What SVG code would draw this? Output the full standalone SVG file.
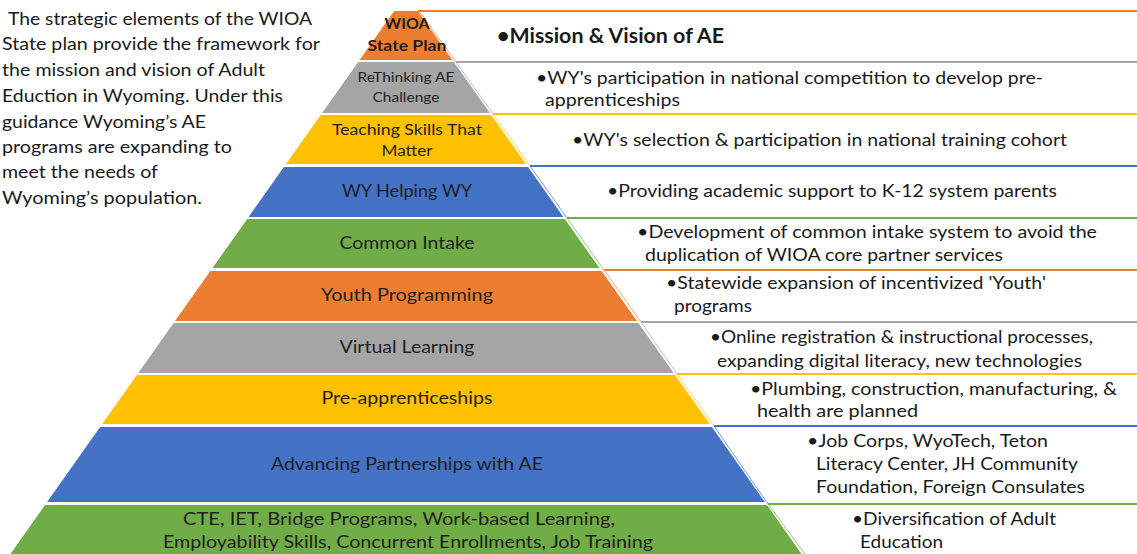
<svg xmlns="http://www.w3.org/2000/svg" width="1137" height="554" viewBox="0 0 1137 554">
  <style>
    .bg { fill: #ffffff; }
    .orange { fill: #ED7D31; }
    .grey { fill: #A5A5A5; }
    .yellow { fill: #FFC000; }
    .blue { fill: #4472C4; }
    .green { fill: #70AD47; }
    .so { stroke: #ED7D31; }
    .sg { stroke: #A5A5A5; }
    .sy { stroke: #FFC000; }
    .sb { stroke: #4472C4; }
    .sn { stroke: #70AD47; }
    .top { stroke-width: 2; fill: none; }
    .side { stroke-width: 1; fill: none; opacity: 0.7; }
    .lbl { font-family: Lato, "Liberation Sans", sans-serif; font-size: 17px; fill: #1e1e1e; text-anchor: middle; }
    .desc { font-family: Lato, "Liberation Sans", sans-serif; font-size: 17px; fill: #1a1a1a; }
    .intro { font-family: Lato, "Liberation Sans", sans-serif; font-size: 17.5px; fill: #1a1a1a; }
  </style>
  <rect class="bg" x="0" y="0" width="1137" height="554"/>

  <!-- introductory paragraph -->
  <g id="intro">
    <text class="intro" x="8" y="25" textLength="304" lengthAdjust="spacingAndGlyphs">The strategic elements of the WIOA</text>
    <text class="intro" x="2" y="50" textLength="318" lengthAdjust="spacingAndGlyphs">State plan provide the framework for</text>
    <text class="intro" x="2" y="76" textLength="263" lengthAdjust="spacingAndGlyphs">the mission and vision of Adult</text>
    <text class="intro" x="2" y="102" textLength="281" lengthAdjust="spacingAndGlyphs">Eduction in Wyoming. Under this</text>
    <text class="intro" x="2" y="128" textLength="204" lengthAdjust="spacingAndGlyphs">guidance Wyoming’s AE</text>
    <text class="intro" x="2" y="153" textLength="230" lengthAdjust="spacingAndGlyphs">programs are expanding to</text>
    <text class="intro" x="2" y="178" textLength="156" lengthAdjust="spacingAndGlyphs">meet the needs of</text>
    <text class="intro" x="2" y="204" textLength="200" lengthAdjust="spacingAndGlyphs">Wyoming’s population.</text>
  </g>

  <!-- box edges linking each tier to its description -->
  <g id="connectors">
    <line class="top so" x1="418" y1="11" x2="1137" y2="11"/>
    <line class="side so" x1="419" y1="11" x2="456" y2="62"/>
    <line class="top sg" x1="456" y1="62" x2="1137" y2="62"/>
    <line class="side sg" x1="456" y1="62" x2="493" y2="114"/>
    <line class="top sy" x1="493" y1="114" x2="1137" y2="114"/>
    <line class="side sy" x1="493" y1="114" x2="530" y2="166"/>
    <line class="top sb" x1="530" y1="166" x2="1137" y2="166"/>
    <line class="side sb" x1="530" y1="166" x2="567" y2="218"/>
    <line class="top sn" x1="567" y1="218" x2="1137" y2="218"/>
    <line class="side sn" x1="567" y1="218" x2="604" y2="270"/>
    <line class="top so" x1="604" y1="270" x2="1137" y2="270"/>
    <line class="side so" x1="604" y1="270" x2="641" y2="322"/>
    <line class="top sg" x1="641" y1="322" x2="1137" y2="322"/>
    <line class="side sg" x1="641" y1="322" x2="677" y2="374"/>
    <line class="top sy" x1="677" y1="374" x2="1137" y2="374"/>
    <line class="side sy" x1="677" y1="374" x2="714" y2="426"/>
    <line class="top sb" x1="714" y1="426" x2="1137" y2="426"/>
    <line class="side sb" x1="714" y1="426" x2="768" y2="504"/>
    <line class="top sn" x1="768" y1="504" x2="1137" y2="504"/>
    <line class="side sn" x1="768" y1="504" x2="805" y2="554"/>
  </g>

  <g id="tier-wioa">
    <polygon class="orange" points="394.2,11 417.8,11 452.4,60 359.6,60"/>
    <text class="lbl" x="407" y="29" style="font-weight:bold;font-size:15px" textLength="45" lengthAdjust="spacingAndGlyphs">WIOA</text>
    <text class="lbl" x="407" y="51" style="font-weight:bold;font-size:15px" textLength="79" lengthAdjust="spacingAndGlyphs">State Plan</text>
    <text class="desc" x="497" y="43" style="font-weight:bold;font-size:20.5px" textLength="227" lengthAdjust="spacingAndGlyphs">•Mission &amp; Vision of AE</text>
  </g>

  <g id="tier-rethinking">
    <polygon class="grey" points="358.2,62 453.8,62 489.9,113 322.1,113"/>
    <text class="lbl" x="406" y="82" style="font-size:14px" textLength="97" lengthAdjust="spacingAndGlyphs">ReThinking AE</text>
    <text class="lbl" x="406" y="102" style="font-size:14px" textLength="67" lengthAdjust="spacingAndGlyphs">Challenge</text>
    <text class="desc" x="536" y="84" textLength="507" lengthAdjust="spacingAndGlyphs">•WY's participation in national competition to develop pre-</text>
    <text class="desc" x="545" y="106" textLength="135" lengthAdjust="spacingAndGlyphs">apprenticeships</text>
  </g>

  <g id="tier-teaching">
    <polygon class="yellow" points="320.7,115 491.3,115 526,164 286,164"/>
    <text class="lbl" x="407" y="135" style="font-size:15.5px" textLength="150" lengthAdjust="spacingAndGlyphs">Teaching Skills That</text>
    <text class="lbl" x="407" y="156" style="font-size:15.5px" textLength="51" lengthAdjust="spacingAndGlyphs">Matter</text>
    <text class="desc" x="572" y="146" textLength="495" lengthAdjust="spacingAndGlyphs">•WY's selection &amp; participation in national training cohort</text>
  </g>

  <g id="tier-helping">
    <polygon class="blue" points="283.9,167 528.1,167 563.4,217 248.6,217"/>
    <text class="lbl" x="407" y="197" textLength="130" lengthAdjust="spacingAndGlyphs">WY Helping WY</text>
    <text class="desc" x="607" y="197" textLength="450" lengthAdjust="spacingAndGlyphs">•Providing academic support to K-12 system parents</text>
  </g>

  <g id="tier-intake">
    <polygon class="green" points="247.2,219 564.8,219 599.5,268 212.5,268"/>
    <text class="lbl" x="407" y="249" textLength="135" lengthAdjust="spacingAndGlyphs">Common Intake</text>
    <text class="desc" x="637" y="238" textLength="460" lengthAdjust="spacingAndGlyphs">•Development of common intake system to avoid the</text>
    <text class="desc" x="645" y="261" textLength="358" lengthAdjust="spacingAndGlyphs">duplication of WIOA core partner services</text>
  </g>

  <g id="tier-youth">
    <polygon class="orange" points="210.4,271 601.6,271 637,321 175,321"/>
    <text class="lbl" x="407" y="301" textLength="172" lengthAdjust="spacingAndGlyphs">Youth Programming</text>
    <text class="desc" x="666" y="289" textLength="380" lengthAdjust="spacingAndGlyphs">•Statewide expansion of incentivized 'Youth'</text>
    <text class="desc" x="674" y="312" textLength="78" lengthAdjust="spacingAndGlyphs">programs</text>
  </g>

  <g id="tier-virtual">
    <polygon class="grey" points="173.6,323 638.4,323 673.7,373 138.3,373"/>
    <text class="lbl" x="407" y="353" textLength="135" lengthAdjust="spacingAndGlyphs">Virtual Learning</text>
    <text class="desc" x="710" y="343" textLength="383" lengthAdjust="spacingAndGlyphs">•Online registration &amp; instructional processes,</text>
    <text class="desc" x="717" y="367" textLength="365" lengthAdjust="spacingAndGlyphs">expanding digital literacy, new technologies</text>
  </g>

  <g id="tier-preapp">
    <polygon class="yellow" points="136.9,375 675.1,375 709.8,424 102.2,424"/>
    <text class="lbl" x="407" y="404" textLength="171" lengthAdjust="spacingAndGlyphs">Pre-apprenticeships</text>
    <text class="desc" x="750" y="395" textLength="367" lengthAdjust="spacingAndGlyphs">•Plumbing, construction, manufacturing, &amp;</text>
    <text class="desc" x="757" y="417" textLength="161" lengthAdjust="spacingAndGlyphs">health are planned</text>
  </g>

  <g id="tier-partnerships">
    <polygon class="blue" points="100.1,427 711.9,427 764.9,502 47.1,502"/>
    <text class="lbl" x="407" y="470" textLength="272" lengthAdjust="spacingAndGlyphs">Advancing Partnerships with AE</text>
    <text class="desc" x="807" y="447" textLength="241" lengthAdjust="spacingAndGlyphs">•Job Corps, WyoTech, Teton</text>
    <text class="desc" x="816" y="470" textLength="262" lengthAdjust="spacingAndGlyphs">Literacy Center, JH Community</text>
    <text class="desc" x="816" y="493" textLength="269" lengthAdjust="spacingAndGlyphs">Foundation, Foreign Consulates</text>
  </g>

  <g id="tier-programs">
    <polygon class="green" points="45,505 767,505 803,556 9,556"/>
    <text class="lbl" x="399" y="525" textLength="432" lengthAdjust="spacingAndGlyphs">CTE, IET, Bridge Programs, Work-based Learning,</text>
    <text class="lbl" x="408" y="548" textLength="490" lengthAdjust="spacingAndGlyphs">Employability Skills, Concurrent Enrollments, Job Training</text>
    <text class="desc" x="852" y="525" textLength="204" lengthAdjust="spacingAndGlyphs">•Diversification of Adult</text>
    <text class="desc" x="860" y="548" textLength="83" lengthAdjust="spacingAndGlyphs">Education</text>
  </g>
</svg>
